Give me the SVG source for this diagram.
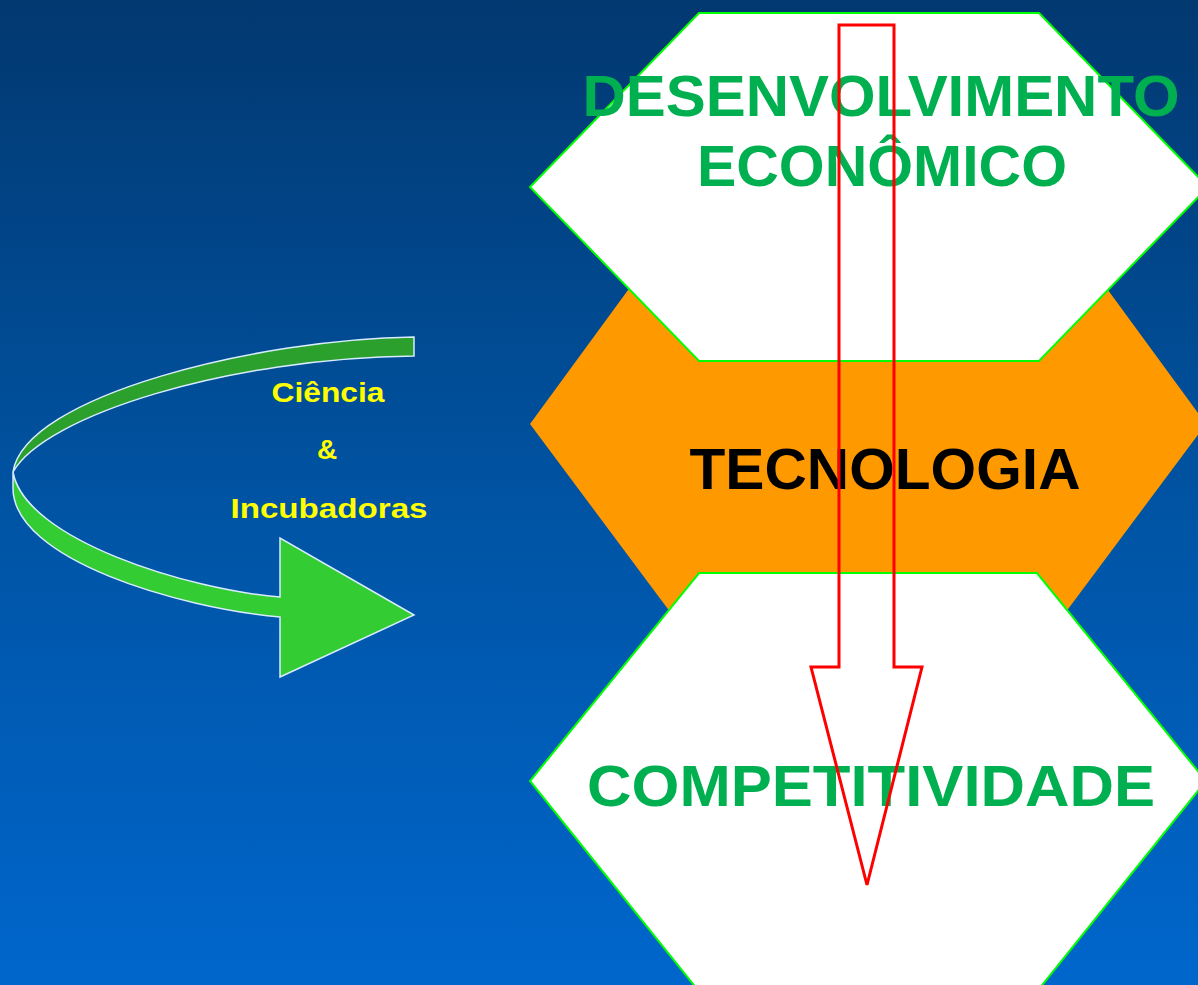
<svg xmlns="http://www.w3.org/2000/svg" width="1198" height="985" viewBox="0 0 1198 985">
<defs>
<linearGradient id="bg" x1="0" y1="0" x2="0" y2="1">
<stop offset="0" stop-color="#023870"/>
<stop offset="0.5" stop-color="#0053a2"/>
<stop offset="1" stop-color="#0066cc"/>
</linearGradient>
<style>
.hex{fill:#ffffff;stroke:#00ff00;stroke-width:2;stroke-linejoin:miter}
.big{font-family:"Liberation Sans",Arial,sans-serif;font-weight:bold;font-size:58px;text-anchor:middle}
.green{fill:#00b050}
.lbl{font-family:"Liberation Sans",Arial,sans-serif;font-weight:bold;font-size:28px;fill:#ffff00;text-anchor:middle}
.rib{stroke:#d8ecff;stroke-width:1.5;stroke-linejoin:miter}
</style>
</defs>
<rect x="0" y="0" width="1198" height="985" fill="url(#bg)"/>
<g id="tecnologia">
<polygon points="530,424 650,260 1086,260 1206,424 1045,640 691,640" fill="#ff9900"/>
<text class="big" x="885" y="489" fill="#000000" textLength="391" lengthAdjust="spacingAndGlyphs">TECNOLOGIA</text>
</g>
<g id="desenvolvimento">
<polygon class="hex" points="699,13 1039,13 1208,187 1039,361 699,361 530,187"/>
<text class="big green" x="881" y="116" textLength="597" lengthAdjust="spacingAndGlyphs">DESENVOLVIMENTO</text>
<text class="big green" x="882" y="186" textLength="370" lengthAdjust="spacingAndGlyphs">ECONÔMICO</text>
</g>
<g id="competitividade">
<polygon class="hex" points="699,573 1037,573 1206,781 1039,989 697,989 530,781"/>
<text class="big green" x="871" y="806" textLength="568" lengthAdjust="spacingAndGlyphs">COMPETITIVIDADE</text>
</g>
<g id="ciencia">
<path class="rib" fill="#2ca02c" d="M414,337 C260,339 25,395 13,472 C45,415 230,358 414,356 Z"/>
<path class="rib" fill="#33cc33" d="M13,472 C25,540 190,590 280,597 L280,538 L414,615 L280,677 L280,617 C180,608 13,560 13,488 Z"/>
<text class="lbl" x="328" y="402" textLength="113" lengthAdjust="spacingAndGlyphs">Ciência</text>
<text class="lbl" x="327" y="459">&amp;</text>
<text class="lbl" x="329" y="518" textLength="197" lengthAdjust="spacingAndGlyphs">Incubadoras</text>
</g>
<g id="connectors">
<polygon points="839,25 894,25 894,667 922,667 867,885 811,667 839,667" fill="none" stroke="#ff0000" stroke-width="3"/>
</g>
</svg>
